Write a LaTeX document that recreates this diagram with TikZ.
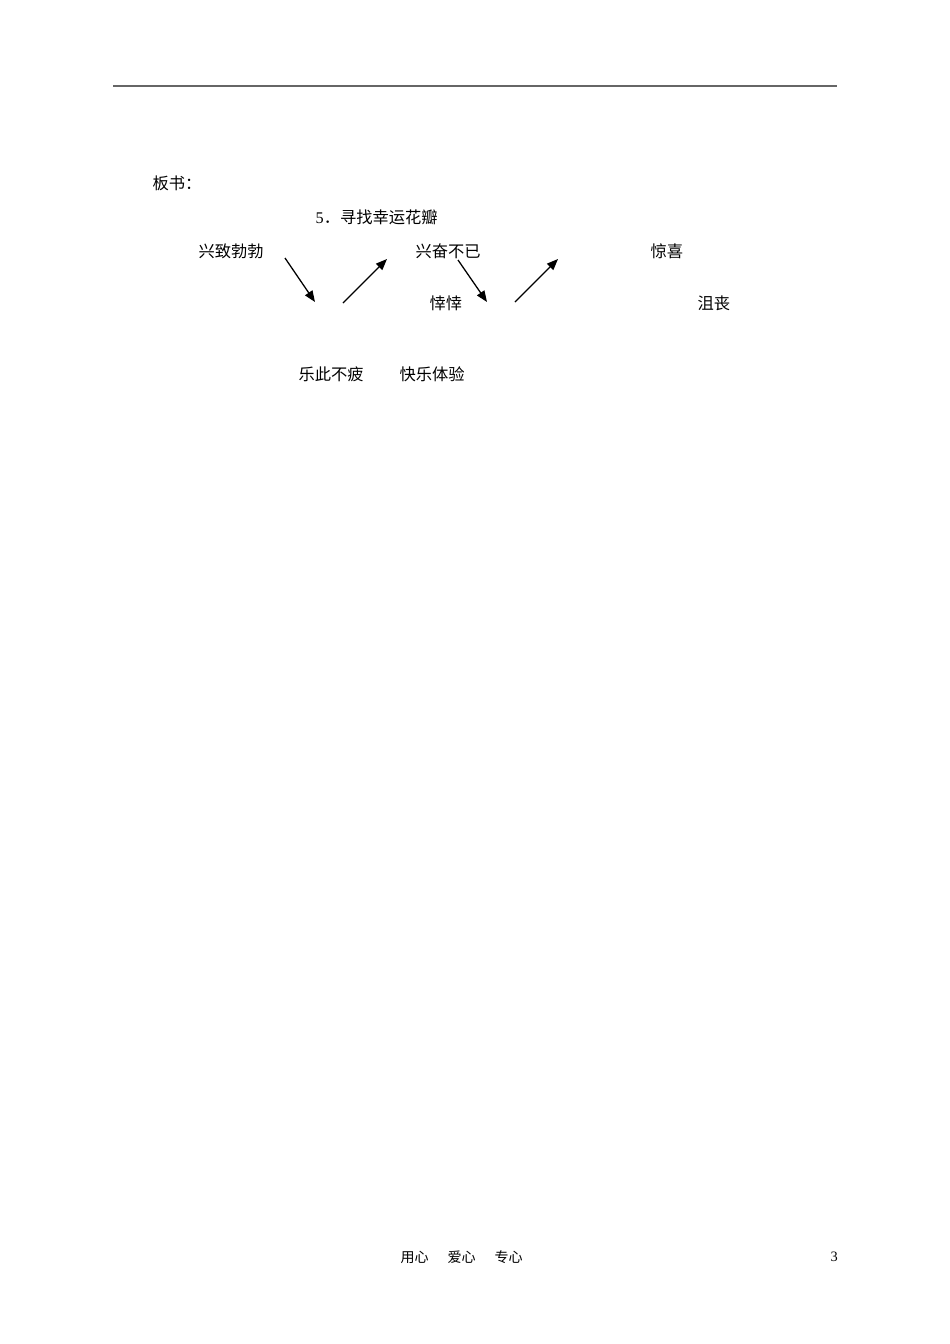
\documentclass[tikz,border=0pt]{standalone}
\usepackage{fontspec}
\setmainfont{Liberation Serif}
\newfontfamily\cjk{Noto Sans CJK SC}
\usetikzlibrary{arrows.meta}
\tikzset{every path/.style={black, line width=0.8pt}, every node/.style={inner sep=0pt, anchor=west, font=\fontsize{10.2pt}{12pt}\selectfont\cjk},
  feet/.style={font=\fontsize{8.8pt}{11pt}\selectfont\cjk},
  mood/.style={-{Triangle[length=7pt,width=5.5pt]}}}

\begin{document}
\begin{tikzpicture}[x=0.6266pt,y=-0.6266pt]
   \useasboundingbox (0,0) rectangle (950,1344);
   \draw[gray!80!black, line width=1pt] (113,86) -- (837,86);
   % board title
   \node (board) at (152,183) {板书：};
   \node (title) at (315,217) {{\rmfamily 5}．寻找幸运花瓣};
   % first row
   \node (xing)  at (198,251) {兴致勃勃};
   \node (fen)   at (415,251) {兴奋不已};
   \node (jing)  at (650,251) {惊喜};
   % second row
   \node (xx)    at (429,303) {悻悻};
   \node (ju)    at (697,303) {沮丧};
   % bottom row
   \node (le)    at (298,374) {乐此不疲};
   \node (kuai)  at (399,374) {快乐体验};
   % arrows
   \coordinate (a1) at (285,258); \coordinate (b1) at (315,302);
   \coordinate (a2) at (343,303); \coordinate (b2) at (387,259);
   \coordinate (a3) at (458,260); \coordinate (b3) at (487,302);
   \coordinate (a4) at (515,302); \coordinate (b4) at (558,259);
   \draw[mood] (a1) -- (b1);
   \draw[mood] (a2) -- (b2);
   \draw[mood] (a3) -- (b3);
   \draw[mood] (a4) -- (b4);
   % footer
   \node[feet] (yong) at (400,1257) {用心};
   \node[feet] (ai)   at (447,1257) {爱心};
   \node[feet] (zhuan) at (494,1257) {专心};
   \node[feet, font=\fontsize{9pt}{11pt}\selectfont\rmfamily] (page) at (830,1257) {3};
\end{tikzpicture}
\end{document}
